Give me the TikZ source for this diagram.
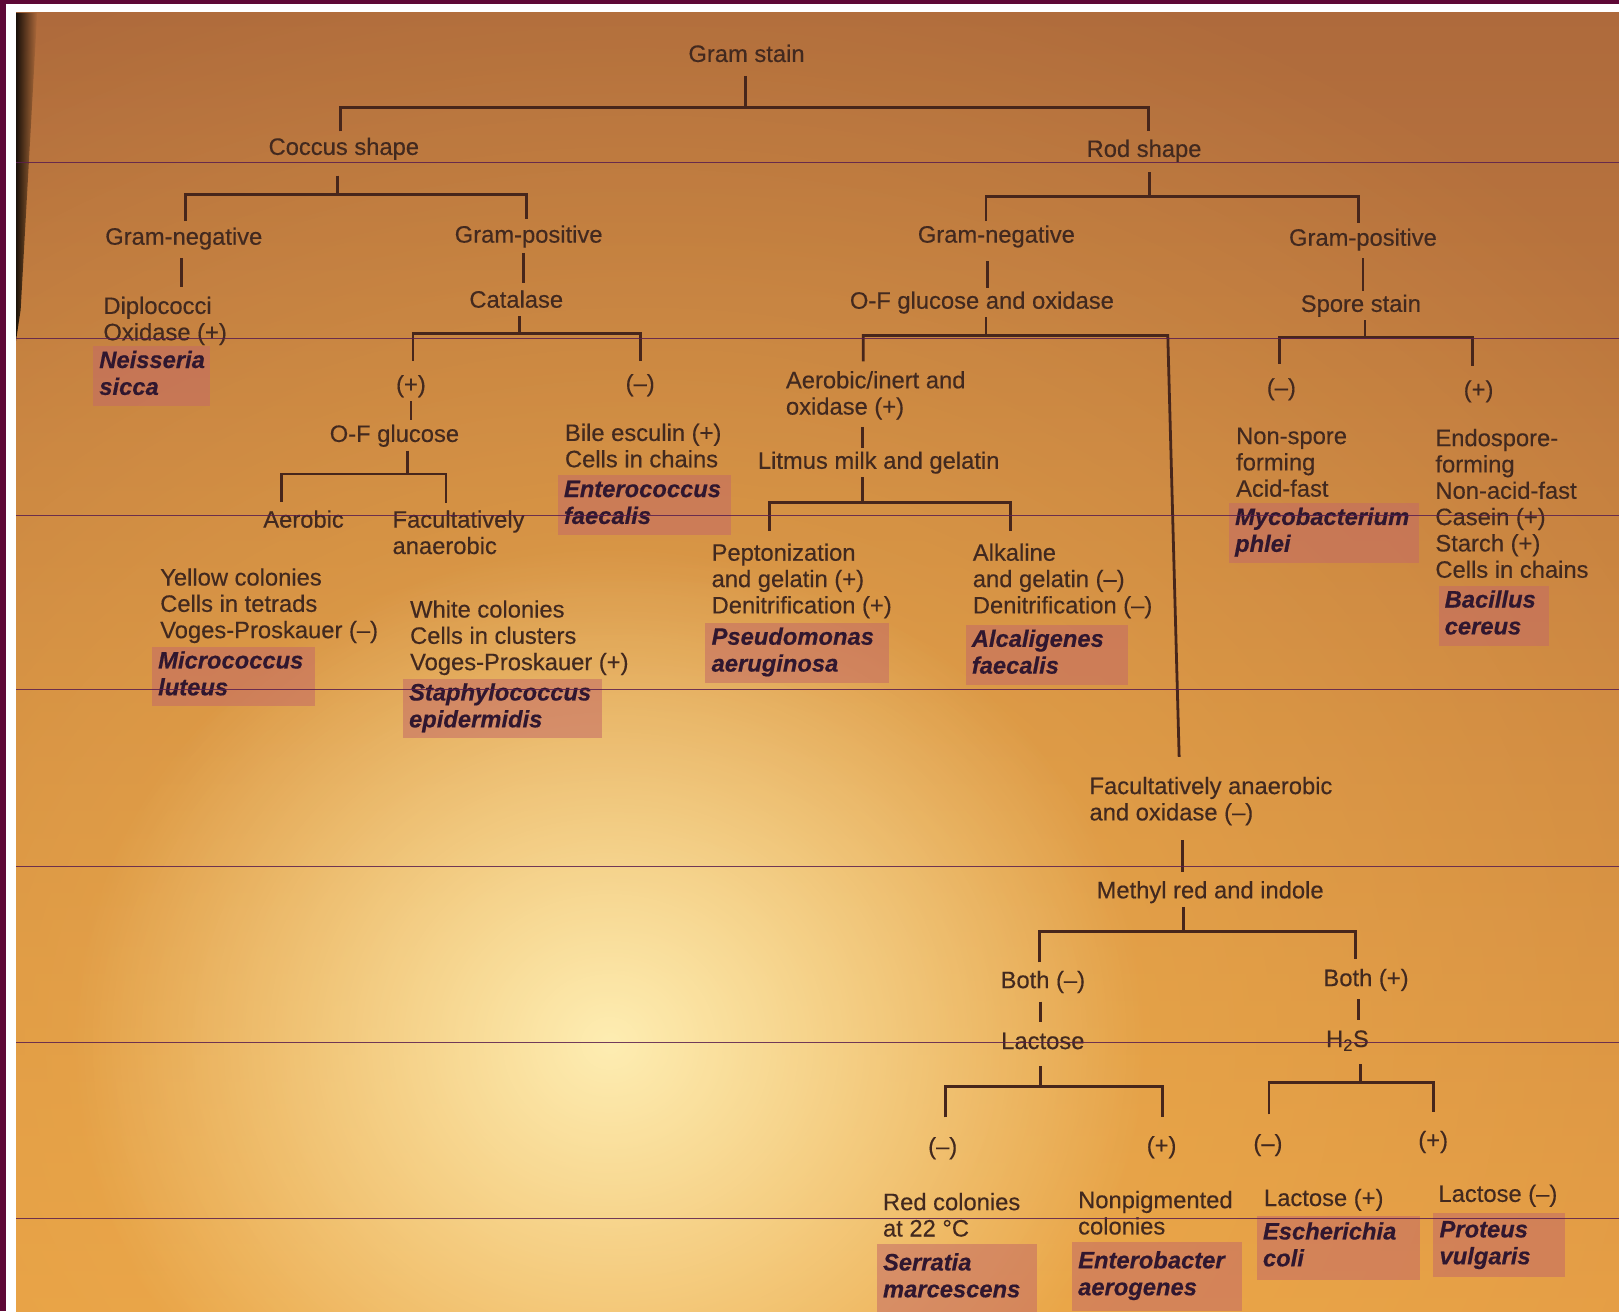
\documentclass[tikz,border=0pt]{standalone}
\usepackage{fontspec}
\setmainfont{Liberation Sans}
\newfontfamily\lblfont[FakeBold=0.35]{Liberation Sans}
\newfontfamily\spfont[FakeBold=0.5]{Liberation Sans}
\usetikzlibrary{fadings,calc}
\definecolor{maroon}{HTML}{5E0836}
\definecolor{bgtop}{HTML}{AE6A3C}
\definecolor{bgmid}{HTML}{D98C43}
\definecolor{bgbot}{HTML}{E39A44}
\definecolor{glarea}{HTML}{F3B54E}
\definecolor{glareb}{HTML}{FFF1B8}
\definecolor{txt}{HTML}{42291F}
\definecolor{sptxt}{HTML}{30172F}
\definecolor{linec}{HTML}{47261B}
\definecolor{boxc}{HTML}{C46A66}
\definecolor{artc}{HTML}{5A1E4E}
\tikzfading[name=stripfade, left color=transparent!0, right color=transparent!100]
\tikzfading[name=glowfade, inner color=transparent!0, outer color=transparent!100]
\begin{document}
\begin{tikzpicture}[x=1pt,y=-1pt,
  lbl/.style={font=\lblfont\fontsize{23}{25.5}\selectfont, text=txt, inner sep=0pt},
  ml/.style={lbl, align=left, anchor=north west},
  sp/.style={font=\spfont\fontsize{23}{26}\selectfont\bfseries\itshape, text=sptxt,
    fill=boxc, fill opacity=0.55, text opacity=1, align=left, anchor=north west,
    inner xsep=6pt, inner ysep=3pt},
  con/.style={draw=linec, line width=2.7pt},
  artline/.style={draw=artc, line width=0.8pt, opacity=0.85}]
\useasboundingbox (0,0) rectangle (1568,1270);
% ---------- background / photo frame ----------
\fill[maroon] (0,0) rectangle (1568,1270);
\fill[white] (6,4) rectangle (1568,1270);
\begin{scope}
  \clip (15.5,12.5) rectangle (1568,1270);
  \shade[top color=bgtop, middle color=bgmid, bottom color=bgbot] (15.5,12.5) rectangle (1568,1270);
  \fill[glarea, opacity=0.75, path fading=glowfade] (620,1010) ellipse [x radius=1300, y radius=1100];
  \fill[glareb, opacity=0.95, path fading=glowfade] (590,1010) ellipse [x radius=520, y radius=480];
  \fill[black, opacity=0.85, path fading=stripfade] (15.5,12.5) -- (36,12.5) -- (20,300) -- (15.5,330) -- cycle;
\end{scope}
% ---------- nodes: coccus branch ----------
\node[lbl, anchor=base] (gram) at (723,60) {Gram stain};
\node[lbl, anchor=base] (coccus) at (333,150) {Coccus shape};
\node[lbl, anchor=base] (rod) at (1108,152) {Rod shape};
\node[lbl, anchor=base] (cgn) at (178,237) {Gram-negative};
\node[lbl, anchor=base] (cgp) at (512,235) {Gram-positive};
\node[ml] (dip) at (100,286) {\strut Diplococci\\Oxidase (+)};
\node[sp, text width=101pt] (neis) at (90,335) {\strut Neisseria\\sicca\strut};
\node[lbl, anchor=base] (cat) at (500,298) {Catalase};
\node[lbl, anchor=base] (cp) at (398,380) {(+)};
\node[lbl, anchor=base] (cm) at (620,379) {(–)};
\node[lbl, anchor=base] (ofg) at (382,428) {O-F glucose};
\node[lbl, anchor=base] (aerob) at (294,511) {Aerobic};
\node[ml] (facan) at (380,493) {\strut Facultatively\\anaerobic};
\node[ml] (yellow) at (155,549) {\strut Yellow colonies\\Cells in tetrads\\Voges-Proskauer (–)};
\node[sp, text width=146pt] (micro) at (147,626) {\strut Micrococcus\\luteus\strut};
\node[ml] (white) at (397,580) {\strut White colonies\\Cells in clusters\\Voges-Proskauer (+)};
\node[sp, text width=181pt] (staph) at (390,657) {\strut Staphylococcus\\epidermidis\strut};
\node[ml] (bile) at (547,409) {\strut Bile esculin (+)\\Cells in chains};
\node[sp, text width=156pt] (entero) at (540,460) {\strut Enterococcus\\faecalis\strut};
% ---------- nodes: rod branch ----------
\node[lbl, anchor=base] (rgn) at (965,235) {Gram-negative};
\node[lbl, anchor=base] (rgp) at (1320,238) {Gram-positive};
\node[lbl, anchor=base] (ofgo) at (951,299) {O-F glucose and oxidase};
\node[ml] (aer) at (761,358) {\strut Aerobic/inert and\\oxidase (+)};
\node[lbl, anchor=base] (litmus) at (851,454) {Litmus milk and gelatin};
\node[ml] (pept) at (689,525) {\strut Peptonization\\and gelatin (+)\\Denitrification (+)};
\node[sp, text width=166pt] (pseudo) at (683,603) {\strut Pseudomonas\\aeruginosa\strut};
\node[ml] (alk) at (942,525) {\strut Alkaline\\and gelatin (–)\\Denitrification (–)};
\node[sp, text width=145pt] (alcal) at (935,605) {\strut Alcaligenes\\faecalis\strut};
\node[ml] (facox) at (1055,751) {\strut Facultatively anaerobic\\and oxidase (–)};
\node[lbl, anchor=base] (methyl) at (1172,870) {Methyl red and indole};
\node[lbl, anchor=base] (bothm) at (1010,957) {Both (–)};
\node[lbl, anchor=base] (lact) at (1010,1016) {Lactose};
\node[lbl, anchor=base] (lm) at (913,1118) {(–)};
\node[lbl, anchor=base] (lp) at (1125,1117) {(+)};
\node[ml] (red) at (855,1154) {\strut Red colonies\\at 22 °C};
\node[sp, text width=143pt, inner ysep=7pt] (serr) at (849,1205) {\strut Serratia\\marcescens\strut};
\node[ml] (nonpig) at (1044,1152) {\strut Nonpigmented\\colonies};
\node[sp, text width=153pt, inner ysep=7pt] (entb) at (1038,1203) {\strut Enterobacter\\aerogenes\strut};
\node[lbl, anchor=base] (bothp) at (1323,955) {Both (+)};
\node[lbl, anchor=base] (h2s) at (1305,1014) {H\textsubscript{2}S};
\node[lbl, anchor=base] (hm) at (1228,1115) {(–)};
\node[lbl, anchor=base] (hp) at (1388,1112) {(+)};
\node[lbl, anchor=base west] (lacp) at (1224,1168) {Lactose (+)};
\node[sp, text width=146pt, inner ysep=5pt] (ecoli) at (1217,1177) {\strut Escherichia\\coli\strut};
\node[lbl, anchor=base west] (lacm) at (1393,1164) {Lactose (–)};
\node[sp, text width=115pt, inner ysep=5pt] (prot) at (1388,1175) {\strut Proteus\\vulgaris\strut};
\node[lbl, anchor=base] (spore) at (1318,302) {Spore stain};
\node[lbl, anchor=base] (sm) at (1241,383) {(–)};
\node[lbl, anchor=base] (spp) at (1432,385) {(+)};
\node[ml] (nonsp) at (1197,412) {\strut Non-spore\\forming\\Acid-fast};
\node[sp, text width=172pt] (myco) at (1190,487) {\strut Mycobacterium\\phlei\strut};
\node[ml] (endo) at (1390,414) {\strut Endospore-\\forming\\Non-acid-fast\\Casein (+)\\Starch (+)\\Cells in chains};
\node[sp, text width=95pt] (bacil) at (1393,567) {\strut Bacillus\\cereus\strut};
% ---------- junction coordinates ----------
\coordinate (gJ) at (722,104); \coordinate (gL) at (330,104); \coordinate (gR) at (1112,104);
\coordinate (cJ) at (327,188); \coordinate (cL) at (180,188); \coordinate (cR) at (510,188);
\coordinate (s1) at (176,0); \coordinate (s2) at (507,0);
\coordinate (kJ) at (503,323); \coordinate (kL) at (400,323); \coordinate (kR) at (620,323);
\coordinate (s3) at (398,0);
\coordinate (oJ) at (395,459); \coordinate (oL) at (273,459); \coordinate (oR) at (432,459);
\coordinate (rJ) at (1113,190); \coordinate (rL) at (955,190); \coordinate (rR) at (1316,190);
\coordinate (s4) at (956,0);
\coordinate (fJ) at (955,325); \coordinate (fL) at (836,325); \coordinate (fR) at (1131,325);
\coordinate (s5) at (835,0);
\coordinate (lJ) at (835,487); \coordinate (lL) at (745,487); \coordinate (lR) at (979,487);
\coordinate (s6) at (1145,0);
\coordinate (mJ) at (1146,902); \coordinate (mL) at (1007,902); \coordinate (mR) at (1313,902);
\coordinate (s7) at (1008,0);
\coordinate (aJ) at (1008,1052); \coordinate (aL) at (916,1052); \coordinate (aR) at (1126,1052);
\coordinate (s8) at (1316,0);
\coordinate (hJ) at (1318,1048); \coordinate (hL) at (1229,1048); \coordinate (hR) at (1388,1048);
\coordinate (s9) at (1320,0);
\coordinate (pJ) at (1322,327); \coordinate (pL) at (1239,327); \coordinate (pR) at (1426,327);
% ---------- connectors ----------
\draw[con, shorten <=13pt] (gram.south -| gJ) -- (gJ);
\draw[con, shorten <=6pt, shorten >=8pt] (coccus.north -| gL) -- (gL) -- (gR) -- (rod.north -| gR);
\draw[con, shorten <=15pt] (coccus.south -| cJ) -- (cJ);
\draw[con, shorten <=6pt, shorten >=6pt] (cgn.north -| cL) -- (cL) -- (cR) -- (cgp.north -| cR);
\draw[con, shorten <=8pt, shorten >=8pt] (cgn.south -| s1) -- (dip.north -| s1);
\draw[con, shorten <=5pt, shorten >=7pt] (cgp.south -| s2) -- (cat.north -| s2);
\draw[con, shorten <=8pt] (cat.south -| kJ) -- (kJ);
\draw[con, shorten <=14pt, shorten >=13pt] (cp.north -| kL) -- (kL) -- (kR) -- (cm.north -| kR);
\draw[con, shorten <=3.4pt, shorten >=4pt] (cp.south -| s3) -- (ofg.north -| s3);
\draw[con, shorten <=3.4pt] (ofg.south -| oJ) -- (oJ);
\draw[con, shorten <=8pt, shorten >=6pt] (aerob.north -| oL) -- (oL) -- (oR) -- (facan.north -| oR);
\draw[con, shorten <=10pt] (rod.south -| rJ) -- (rJ);
\draw[con, shorten <=4pt, shorten >=5pt] (rgn.north -| rL) -- (rL) -- (rR) -- (rgp.north -| rR);
\draw[con, shorten <=13pt, shorten >=3pt] (rgn.south -| s4) -- (ofgo.north -| s4);
\draw[con, shorten <=3.4pt] (ofgo.south -| fJ) -- (fJ);
\draw[con, shorten >=8pt] ($(fR |- facox.north)+(11,-18)$) -- (fR) -- (fL) -- (aer.north -| fL);
\draw[con, shorten <=7pt, shorten >=3pt] (aer.south -| s5) -- (litmus.north -| s5);
\draw[con, shorten <=3.4pt] (litmus.south -| lJ) -- (lJ);
\draw[con, shorten <=11pt, shorten >=11pt] (pept.north -| lL) -- (lL) -- (lR) -- (alk.north -| lR);
\draw[con, shorten <=14pt, shorten >=9pt] (facox.south -| s6) -- (methyl.north -| s6);
\draw[con, shorten <=3.4pt] (methyl.south -| mJ) -- (mJ);
\draw[con, shorten <=8pt, shorten >=9pt] (bothm.north -| mL) -- (mL) -- (mR) -- (bothp.north -| mR);
\draw[con, shorten <=8pt, shorten >=10pt] (bothm.south -| s7) -- (lact.north -| s7);
\draw[con, shorten <=16pt] (lact.south -| aJ) -- (aJ);
\draw[con, shorten <=19pt, shorten >=18pt] (lm.north -| aL) -- (aL) -- (aR) -- (lp.north -| aR);
\draw[con, shorten <=8pt, shorten >=10pt] (bothp.south -| s8) -- (h2s.north -| s8);
\draw[con, shorten <=13pt] (h2s.south -| hJ) -- (hJ);
\draw[con, shorten <=19pt, shorten >=18pt] (hm.north -| hL) -- (hL) -- (hR) -- (hp.north -| hR);
\draw[con, shorten <=7pt, shorten >=3pt] (rgp.south -| s9) -- (spore.north -| s9);
\draw[con, shorten <=3.4pt] (spore.south -| pJ) -- (pJ);
\draw[con, shorten <=14pt, shorten >=14pt] (sm.north -| pL) -- (pL) -- (pR) -- (spp.north -| pR);
% ---------- scan lines across the photo ----------
\foreach \yy in {157,328,499,668,839,1010,1180}
  \draw[artline] (15.5,\yy) -- (1568,\yy);
\end{tikzpicture}
\end{document}
